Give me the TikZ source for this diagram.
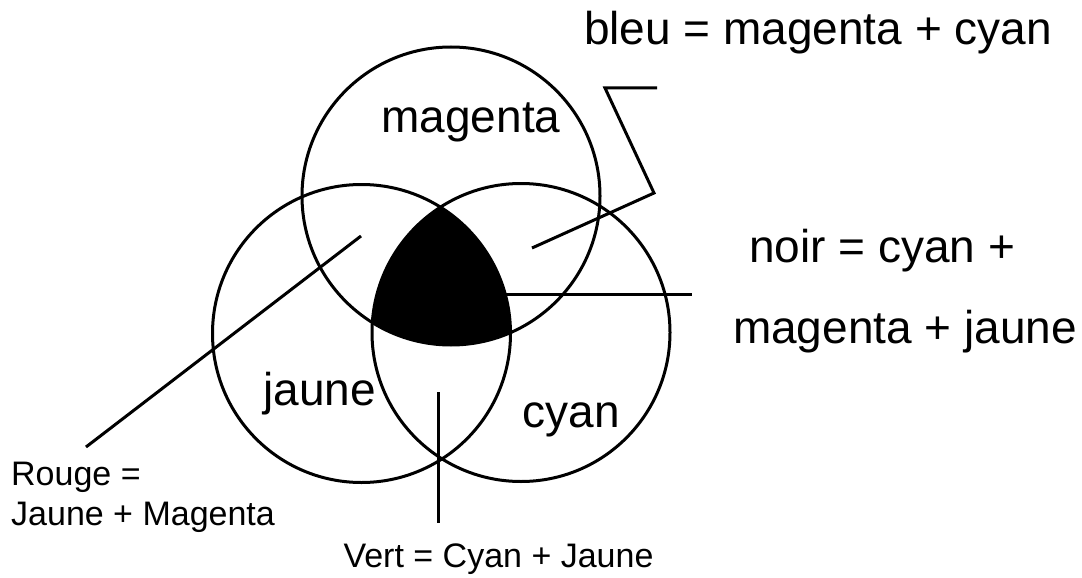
\documentclass[tikz,border=0pt]{standalone}
\usepackage{fontspec}
\setmainfont{Liberation Sans}
\begin{document}
\begin{tikzpicture}[x=1pt,y=-1pt,
  ring/.style={circle,draw,line width=3pt,minimum size=298pt,inner sep=0pt,outer sep=0pt},
  leader/.style={line width=3pt},
  big/.style={inner sep=0pt,font=\fontsize{46}{55}\selectfont},
  small/.style={inner sep=0pt,font=\fontsize{34}{42}\selectfont}]
\useasboundingbox (0,0) rectangle (1082,578);
% black triple intersection
\begin{scope}
  \clip (451,196) circle (149);
  \clip (361.5,333.5) circle (149);
  \fill[black] (521,332.5) circle (149);
\end{scope}
% circles
\node[ring] (M) at (451,196) {};
\node[ring] (J) at (361.5,333.5) {};
\node[ring] (C) at (521,332.5) {};
% labels in circles
\node[big,anchor=base] (tm) at (471,132) {magenta};
\node[big,anchor=base] (tj) at (319.5,405) {jaune};
\node[big,anchor=base] (tc) at (571.5,427) {cyan};
% right labels
\node[big,anchor=base] (tbleu) at (818,45) {bleu = magenta + cyan};
\node[big,anchor=base] (tnoir1) at (882,262) {noir = cyan +};
\node[big,anchor=base] (tnoir2) at (905,343) {magenta + jaune};
% small labels
\node[small,anchor=base west] (trouge1) at (11,485) {Rouge =};
\node[small,anchor=base west] (trouge2) at (11,525) {Jaune + Magenta};
\node[small,anchor=base] (tvert) at (498.5,567) {Vert = Cyan + Jaune};
% leader line coordinates
\coordinate (b0) at (532,248);
\coordinate (b1) at (654,193);
\coordinate (b2) at (605,88);
\coordinate (b3) at (657,88);
\coordinate (n0) at (505,294);
\coordinate (n1) at (692,294);
\coordinate (r0) at (361,236);
\coordinate (r1) at (86,447);
\coordinate (v0) at (438,392);
\coordinate (v1) at (438,523);
% leaders
\draw[leader] (b0) -- (b1) -- (b2) -- (b3);
\draw[leader] (n0) -- (n1);
\draw[leader] (r0) -- (r1);
\draw[leader] (v0) -- (v1);
\end{tikzpicture}
\end{document}
